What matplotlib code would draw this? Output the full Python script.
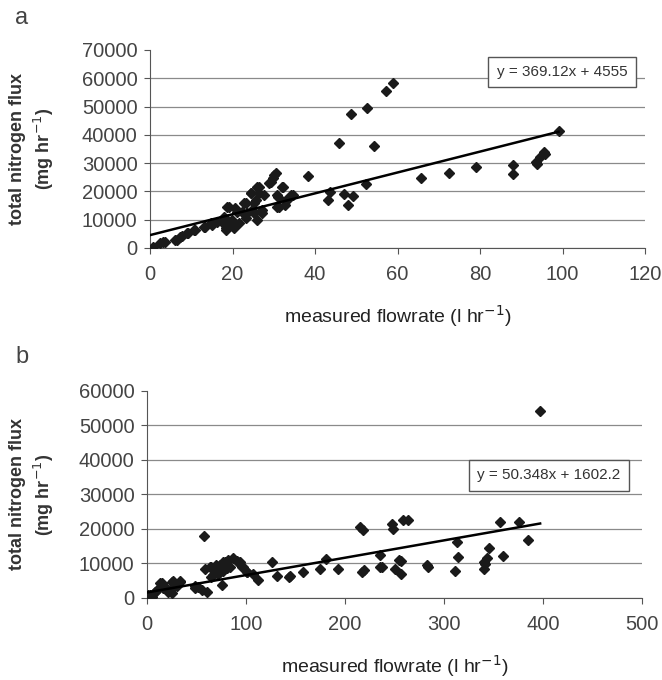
import matplotlib.pyplot as plt
import numpy as np

plt.rcParams['font.family'] = ['Liberation Sans', 'DejaVu Sans']

# painel a: vazao medida (l/h) x fluxo de nitrogenio total (mg/h)
vazao_a = [0.8, 2.4, 3.2, 3.7, 6.1, 6.5, 7.3, 7.7, 9.0, 9.3, 10.6, 11.0, 13.0, 13.4,
           14.7, 15.0, 16.3, 17.5, 17.9, 18.3, 18.3, 18.7, 19.1, 19.5, 19.9, 20.3, 20.3,
           20.7, 21.1, 21.5, 22.4, 22.8, 23.2, 23.2, 23.6, 24.4, 24.4, 24.8, 25.2, 25.2,
           25.6, 26.0, 26.0, 26.4, 26.4, 27.1, 27.2, 27.7, 28.9, 29.3, 29.7, 30.1, 30.5,
           30.7, 30.7, 30.9, 31.3, 32.1, 32.3, 32.8, 32.9, 33.7, 34.1, 34.6,
           38.4, 43.1, 43.5, 45.7, 46.9, 48.0, 48.6, 49.3, 52.3, 52.7, 54.2, 57.2, 59.0,
           65.6, 72.4, 79.1, 88.0, 88.0, 93.5, 93.7, 94.4, 95.5, 95.7, 99.0]
fluxo_a = [470, 1650, 2200, 2000, 2800, 3000, 4000, 4200, 5400, 5200, 6400, 6400, 7500, 7500,
           8700, 8100, 9300, 9300, 11100, 7000, 6400, 14600, 14600, 9300, 9900, 7500, 7000,
           14000, 12800, 8700, 12800, 15800, 15800, 10600, 12200, 19300, 19300, 13400, 15800, 12200,
           17000, 21700, 9900, 21700, 19300, 13400, 12300, 18700, 22900, 23400, 24600, 25800, 26400,
           18700, 14600, 18100, 14600, 21700, 21700, 15200, 17000, 17600, 18700, 18700,
           25600, 17000, 19700, 37000, 19100, 15200, 47300, 18500, 22600, 49400, 36200, 55600, 58200,
           24800, 26400, 28700, 29300, 26100, 30500, 29800, 32300, 34000, 33300, 41400]

# painel b
vazao_b = [0, 1.3, 3, 4.7, 8, 8, 13, 13, 15, 16.5, 20, 21.6, 25, 25, 26.6, 26.6, 30, 33, 33.3,
           48.5, 48.5, 51.8, 55.2, 57.9, 58.6, 60.3, 63.6, 65, 65, 67, 70, 70, 72, 73.7, 74, 75.4,
           77, 77, 79, 80.5, 82, 84, 87, 90.6, 92, 94, 95.6, 97, 100.7, 101, 107, 112.5, 126,
           131, 143, 144.4, 158, 175, 180.5, 193, 215, 217, 218, 219, 235, 235, 237, 247, 248,
           250, 254, 257, 257, 259, 264, 283, 284, 311, 313, 314, 340, 340, 341, 343, 345,
           356, 360, 376, 385, 397]
fluxo_b = [200, 870, 1000, 400, 1800, 1800, 3100, 4300, 4300, 2800, 2500, 1800, 1500, 4700,
           4800, 3300, 3500, 4800, 4700, 2800, 3500, 3300, 2300, 18000, 8300, 1700, 9100, 9100,
           6200, 6700, 9100, 9600, 7000, 7600, 9600, 3800, 10500, 7900, 10300, 8600, 11000, 9100,
           11500, 10600, 10500, 10300, 9100, 9100, 7600, 7600, 7000, 5200, 10500, 6400, 6100,
           6400, 7400, 8300, 11300, 8300, 20700, 7600, 19700, 8000, 12500, 9100, 9100, 21400,
           19900, 8300, 11000, 10800, 7000, 22600, 22600, 9600, 9100, 7800, 16300, 11800, 8400,
           10500, 9900, 11500, 14600, 22100, 12200, 22100, 16800, 54200]

# linhas de tendencia (coeficientes do grafico)
coef_a = (369.12, 4555)
coef_b = (50.348, 1602.2)
eq_a = 'y = 369.12x + 4555'
eq_b = 'y = 50.348x + 1602.2'

cinza = '#444444'

fig = plt.figure(figsize=(6.62, 6.80), dpi=100)
ax_a = fig.add_axes([0.2266, 0.6353, 0.748, 0.2912])
ax_b = fig.add_axes([0.2220, 0.1206, 0.748, 0.3044])


def painel(ax, x, y, coef, eq, xmax, ymax, ystep, eq_pos, label_x):
    ax.plot(x, y, 'D', color='#1a1a1a', markersize=5.5, zorder=3)
    xs = np.array([0, max(x)])
    ax.plot(xs, coef[0] * xs + coef[1], color='black', lw=1.8, zorder=4)
    ax.set_xlim(0, xmax)
    ax.set_ylim(0, ymax)
    ax.set_yticks(np.arange(0, ymax + 1, ystep))
    ax.set_xticks(np.linspace(0, xmax, 6 if xmax == 500 else 7))
    ax.yaxis.grid(True, color='#8a8a8a', lw=0.9)
    ax.get_ygridlines()[-1].set_visible(False)
    ax.set_axisbelow(True)
    for s in ['top', 'right']:
        ax.spines[s].set_visible(False)
    for s in ['left', 'bottom']:
        ax.spines[s].set_color('#555555')
    ax.tick_params(direction='out', length=4, color='#555555', labelsize=14.5,
                   labelcolor=cinza)
    ax.tick_params(axis='x', pad=8)
    ax.tick_params(axis='y', pad=5)
    ax.set_ylabel('total nitrogen flux\n(mg hr$^{-1}$)', fontsize=13, fontweight='bold',
                  color='#333333', linespacing=1.3)
    ax.yaxis.set_label_coords(label_x, 0.5)
    ax.set_xlabel('measured flowrate (l hr$^{-1}$)', fontsize=14, color='#222222', labelpad=14)
    ax.text(eq_pos[0], eq_pos[1], eq, transform=ax.transAxes, ha='center', va='center',
            fontsize=11, color='#333333',
            bbox=dict(boxstyle='square,pad=0.55', fc='white', ec='#555555', lw=1))


painel(ax_a, vazao_a, fluxo_a, coef_a, eq_a, 120, 70000, 10000, (0.832, 0.889), -0.19)
painel(ax_b, vazao_b, fluxo_b, coef_b, eq_b, 500, 60000, 10000, (0.812, 0.592), -0.184)

fig.text(0.023, 0.974, 'a', fontsize=17, color=cinza, va='center')
fig.text(0.023, 0.475, 'b', fontsize=17, color=cinza, va='center')

fig.savefig('out.png', dpi=100)
